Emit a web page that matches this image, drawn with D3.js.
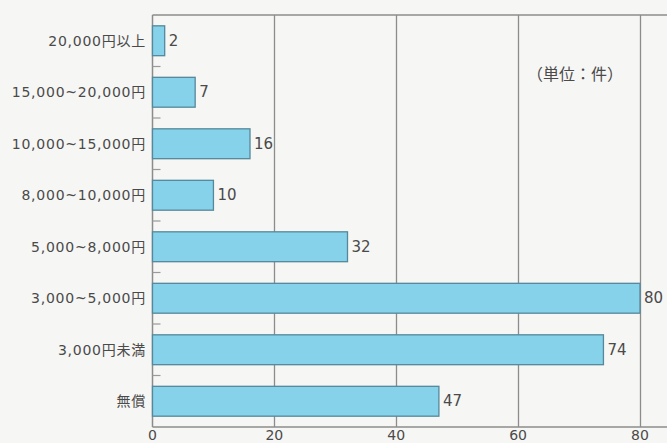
<!DOCTYPE html>
<html>
<head>
<meta charset="utf-8">
<script src="https://cdn.jsdelivr.net/npm/d3@7/dist/d3.min.js"></script>
<style>
  html, body { margin: 0; padding: 0; background: #f6f6f4; }
  svg { display: block; }
  text { fill: #4a4a4a; }
</style>
</head>
<body>
<svg id="chart" width="667" height="443"></svg>
<script>
// Price bands (top to bottom) and number of cases in each
const categories = ["20,000円以上", "15,000~20,000円", "10,000~15,000円", "8,000~10,000円",
                    "5,000~8,000円", "3,000~5,000円", "3,000円未満", "無償"];
const counts = [2, 7, 16, 10, 32, 80, 74, 47];
const xTicks = [0, 20, 40, 60, 80];
const unitLabel = "（単位：件）";

(function () {
  const svg = d3.select("#chart");
  const W = 667;
  const plotLeft = 152.5, plotTop = 15, plotBottom = 427;

  const x = d3.scaleLinear().domain([0, 80]).range([plotLeft, 640]);
  const y = d3.scaleBand().domain(categories).range([plotTop, plotBottom])
    .paddingInner(0.42).paddingOuter(0.21);

  const lineColor = "#8c8c8c";

  // vertical gridlines
  svg.append("g").selectAll("line").data(xTicks.slice(1)).join("line")
    .attr("x1", d => Math.round(x(d)) + 0.5).attr("x2", d => Math.round(x(d)) + 0.5)
    .attr("y1", plotTop).attr("y2", plotBottom)
    .attr("stroke", lineColor).attr("stroke-width", 1.3);

  // frame: top border, left axis, bottom axis
  svg.append("line").attr("x1", plotLeft).attr("x2", W).attr("y1", plotTop).attr("y2", plotTop)
    .attr("stroke", lineColor).attr("stroke-width", 1.5);
  svg.append("line").attr("x1", plotLeft).attr("x2", plotLeft).attr("y1", plotTop).attr("y2", plotBottom)
    .attr("stroke", lineColor).attr("stroke-width", 1.5);
  svg.append("line").attr("x1", plotLeft).attr("x2", W).attr("y1", plotBottom).attr("y2", plotBottom)
    .attr("stroke", lineColor).attr("stroke-width", 1.5);

  // small separators between bands on the left axis
  const gap = (y.step() - y.bandwidth()) / 2;
  svg.append("g").selectAll("line").data(categories.slice(1)).join("line")
    .attr("x1", plotLeft).attr("x2", plotLeft + 8)
    .attr("y1", d => y(d) - gap)
    .attr("y2", d => y(d) - gap)
    .attr("stroke", "#9a9a9a").attr("stroke-width", 1.2);

  // bars
  svg.append("g").selectAll("rect").data(categories).join("rect")
    .attr("x", x(0))
    .attr("y", d => y(d))
    .attr("width", (d, i) => x(counts[i]) - x(0))
    .attr("height", y.bandwidth())
    .attr("fill", "#86d2ea")
    .attr("stroke", "#55889a")
    .attr("stroke-width", 1.3);

  // value labels
  svg.append("g").selectAll("text").data(categories).join("text")
    .attr("x", (d, i) => x(counts[i]) + 4)
    .attr("y", d => y(d) + y.bandwidth() / 2)
    .attr("dominant-baseline", "central")
    .attr("font-family", "'DejaVu Sans', sans-serif")
    .attr("font-size", 15)
    .text((d, i) => counts[i]);

  // category labels
  svg.append("g").selectAll("text").data(categories).join("text")
    .attr("x", 146)
    .attr("y", d => y(d) + y.bandwidth() / 2)
    .attr("text-anchor", "end")
    .attr("dominant-baseline", "central")
    .attr("font-family", "'DejaVu Sans', 'Noto Sans CJK JP', sans-serif")
    .attr("font-size", 14)
    .attr("letter-spacing", 0.75)
    .text(d => d);

  // x tick labels
  svg.append("g").selectAll("text").data(xTicks).join("text")
    .attr("x", d => x(d))
    .attr("y", 430)
    .attr("text-anchor", "middle")
    .attr("dominant-baseline", "hanging")
    .attr("font-family", "'DejaVu Sans', sans-serif")
    .attr("font-size", 14)
    .text(d => d);

  // unit note
  svg.append("text")
    .attr("x", 575).attr("y", 73)
    .attr("text-anchor", "middle")
    .attr("dominant-baseline", "central")
    .attr("font-family", "'Noto Sans CJK JP', sans-serif")
    .attr("font-size", 16)
    .text(unitLabel);
})();
</script>
</body>
</html>
